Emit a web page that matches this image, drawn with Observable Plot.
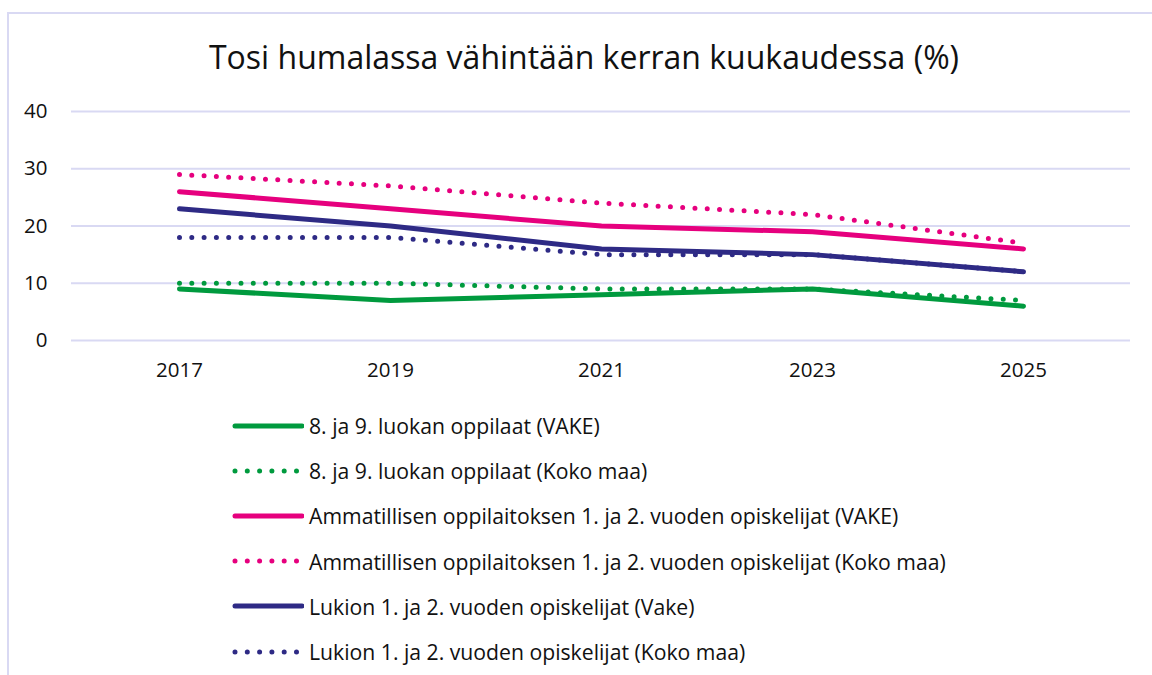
<!DOCTYPE html>
<html><head><meta charset="utf-8">
<script src="https://cdn.jsdelivr.net/npm/d3@7"></script>
<script src="https://cdn.jsdelivr.net/npm/@observablehq/plot@0.6"></script>
<style>
html,body{margin:0;padding:0;background:#fff;width:1152px;height:675px;overflow:hidden;font-family:"Open Sans",sans-serif;}
#frame{position:absolute;left:7px;top:12px;width:1160px;height:700px;border:2px solid #d9d9f3;box-sizing:border-box;}
#title{position:absolute;left:0;width:1168px;top:35px;text-align:center;font-size:32px;color:#111;}
#chart{position:absolute;left:0;top:0;}
#legend{position:absolute;left:232px;top:403px;}
.row{height:45.2px;display:flex;align-items:center;font-size:21.2px;color:#111;}
.row svg{margin-right:5px;}
</style></head>
<body>
<div id="frame"></div>
<div id="title">Tosi humalassa vähintään kerran kuukaudessa (%)</div>
<div id="chart"></div>
<div id="legend"></div>
<script>
const years = ["2017","2019","2021","2023","2025"];
const seriesNames = [
  "8. ja 9. luokan oppilaat (VAKE)",
  "8. ja 9. luokan oppilaat (Koko maa)",
  "Ammatillisen oppilaitoksen 1. ja 2. vuoden opiskelijat (VAKE)",
  "Ammatillisen oppilaitoksen 1. ja 2. vuoden opiskelijat (Koko maa)",
  "Lukion 1. ja 2. vuoden opiskelijat (Vake)",
  "Lukion 1. ja 2. vuoden opiskelijat (Koko maa)"
];
const seriesColors = ["#009a3e","#009a3e","#e6007e","#e6007e","#2e2a85","#2e2a85"];
const seriesDotted = [false,true,false,true,false,true];
const peruskouluVake = [9,7,8,9,6];
const peruskouluKoko = [10,10,9,9,7];
const ammattiVake = [26,23,20,19,16];
const ammattiKoko = [29,27,24,22,17];
const lukioVake = [23,20,16,15,12];
const lukioKoko = [18,18,15,15,12];
const yTicks = [0,10,20,30,40];

const seriesValues = [peruskouluVake,peruskouluKoko,ammattiVake,ammattiKoko,lukioVake,lukioKoko];
const data = [];
seriesValues.forEach((vals,i)=>vals.forEach((v,j)=>data.push({series:seriesNames[i],year:years[j],value:v,idx:i})));

const order = [1,3,5,0,2,4];
const marks = [
  Plot.gridY(yTicks,{stroke:"#d9d9f3",strokeOpacity:1,strokeWidth:2})
];
for (const i of order) {
  marks.push(Plot.line(data.filter(d=>d.idx===i),{
    x:"year",y:"value",stroke:seriesColors[i],strokeWidth:5,
    strokeLinecap:"round",strokeLinejoin:"round",
    strokeDasharray: seriesDotted[i] ? "0 12.3" : null
  }));
}
marks.push(Plot.axisY(yTicks,{tickSize:0,tickPadding:24,fontSize:20.5,textAnchor:"end",fill:"#111"}));
marks.push(Plot.axisX(years,{tickSize:0,tickPadding:22,fontSize:20.5,fill:"#111"}));

const chart = Plot.plot({
  width:1152,height:380,
  marginTop:111,marginBottom:40,marginLeft:71,marginRight:22,
  style:{fontFamily:"Open Sans, sans-serif",background:"transparent",overflow:"visible"},
  x:{type:"point",domain:years,padding:0.5,label:null},
  y:{domain:[0,40],label:null},
  marks
});
document.getElementById("chart").appendChild(chart);

const legend = document.getElementById("legend");
seriesNames.forEach((name,i)=>{
  const row = document.createElement("div");
  row.className="row";
  const dash = seriesDotted[i] ? ' stroke-dasharray="0 12.3"' : '';
  row.innerHTML = `<svg width="72" height="10"><line x1="3" y1="5" x2="70" y2="5" stroke="${seriesColors[i]}" stroke-width="5" stroke-linecap="round"${dash}/></svg><span>${name}</span>`;
  legend.appendChild(row);
});
</script>
</body></html>
